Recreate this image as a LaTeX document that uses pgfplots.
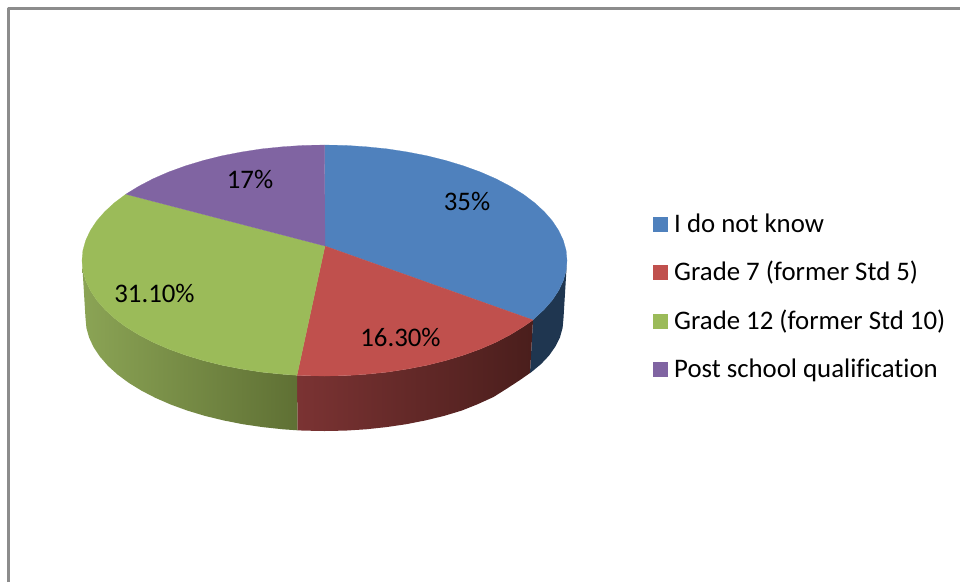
\documentclass[border=0pt]{standalone}
\usepackage{pgfplots}
\pgfplotsset{compat=1.18}
\usepackage{fontspec}
\setmainfont[Ligatures={NoCommon}]{Carlito}
\definecolor{cblue}{HTML}{4F81BD}
\definecolor{cred}{HTML}{C0504D}
\definecolor{cgreen}{HTML}{9BBB59}
\definecolor{cpurple}{HTML}{8064A2}
\definecolor{wblue}{HTML}{1F3650}
\definecolor{frameg}{HTML}{8C8C8C}
\definecolor{HTMLleftr}{HTML}{7B3333}
\definecolor{HTMLmidr}{HTML}{4F201E}
\definecolor{HTMLrightr}{HTML}{4A1E1C}
\definecolor{HTMLleftg}{HTML}{8BA455}
\definecolor{HTMLrightg}{HTML}{5F7034}
\begin{document}
\begin{tikzpicture}
\begin{axis}[
  scale only axis, width=960pt, height=582pt,
  xmin=0, xmax=960, ymin=0, ymax=582, y dir=reverse,
  axis line style={draw=none}, ticks=none, no markers,
  every axis plot/.append style={line join=round},
]
% frame
\addplot[draw=frameg, line width=3pt] coordinates {(8.5,582) (8.5,8.5) (960,8.5)};
% side walls
\addplot[draw=none, fill=wblue] coordinates {(567,260.5)(566.1,270.6)(563.3,280.6)(558.7,290.4)(552.4,300)(544.3,309.3)(534.5,318.3)(533,320)(530,373)(531.5,372)(541.1,364)(549.1,355.5)(555.4,346.5)(559.9,337.6)(562.6,327.9)(563.5,318)} --cycle;
\addplot[draw=none, left color=HTMLleftr, middle color=HTMLmidr, right color=HTMLrightr] coordinates {(533,320)(523.2,326.8)(510.3,334.7)(496,342.2)(480.4,349)(463.6,355.1)(445.8,360.5)(427,365.2)(407.4,369)(387.3,372.1)(366.6,374.2)(345.6,375.6)(324.5,376)(303.4,375.6)(297,375.3)(297.5,430.3)(303.7,430.6)(324.5,431)(345.3,430.6)(366,429.3)(386.4,427.1)(406.2,424.2)(425.5,420.4)(444,415.9)(461.6,410.6)(478.1,404)(493.5,397)(507,388.5)(520,380)(530,373)} --cycle;
\addplot[draw=none, left color=HTMLleftg, right color=HTMLrightg] coordinates {(297,375.3)(282.4,374.2)(261.7,372.1)(241.6,369)(222,365.2)(203.2,360.5)(185.4,355.1)(168.6,349)(153,342.2)(138.7,334.7)(125.8,326.8)(114.5,318.3)(104.7,309.3)(96.6,300)(90.3,290.4)(85.7,280.6)(82.9,270.6)(82,260.5)(85.5,318)(86.4,327.9)(89.1,337.6)(93.6,347.2)(99.9,356.6)(107.9,365.8)(117.5,374.5)(128.7,382.8)(141.4,390.6)(155.5,397.9)(170.9,404.6)(187.4,410.6)(205,415.9)(223.5,420.4)(242.8,424.2)(262.6,427.1)(283,429.3)(297.5,430.3)} --cycle;
% top faces
\addplot[draw=cblue, line width=0.2pt, fill=cblue] coordinates {(325,246)(324.5,145)(345.6,145.4)(366.6,146.8)(387.3,148.9)(407.4,152)(427,155.8)(445.8,160.5)(463.6,165.9)(480.4,172)(496,178.8)(510.3,186.3)(523.2,194.2)(534.5,202.7)(544.3,211.7)(552.4,221)(558.7,230.6)(563.3,240.4)(566.1,250.4)(567,260.5)(566.1,270.6)(563.3,280.6)(558.7,290.4)(552.4,300)(544.3,309.3)(534.5,318.3)(533,320)} --cycle;
\addplot[draw=cred, line width=0.2pt, fill=cred] coordinates {(325,246)(533,320)(523.2,326.8)(510.3,334.7)(496,342.2)(480.4,349)(463.6,355.1)(445.8,360.5)(427,365.2)(407.4,369)(387.3,372.1)(366.6,374.2)(345.6,375.6)(324.5,376)(303.4,375.6)(297,375.3)} --cycle;
\addplot[draw=cgreen, line width=0.2pt, fill=cgreen] coordinates {(325,246)(297,375.3)(282.4,374.2)(261.7,372.1)(241.6,369)(222,365.2)(203.2,360.5)(185.4,355.1)(168.6,349)(153,342.2)(138.7,334.7)(125.8,326.8)(114.5,318.3)(104.7,309.3)(96.6,300)(90.3,290.4)(85.7,280.6)(82.9,270.6)(82,260.5)(82.9,250.4)(85.7,240.4)(90.3,230.6)(96.6,221)(104.7,211.7)(114.5,202.7)(125.8,194.2)} --cycle;
\addplot[draw=cpurple, line width=0.2pt, fill=cpurple] coordinates {(325,246)(125.8,194.2)(138.7,186.3)(153,178.8)(168.6,172)(185.4,165.9)(203.2,160.5)(222,155.8)(241.6,152)(261.7,148.9)(282.4,146.8)(303.4,145.4)(324.5,145)} --cycle;
% legend keys
\addplot[draw=none, fill=cblue] coordinates {(653,217)(668,217)(668,232)(653,232)} --cycle;
\addplot[draw=none, fill=cred] coordinates {(653,265)(668,265)(668,280)(653,280)} --cycle;
\addplot[draw=none, fill=cgreen] coordinates {(653,314)(668,314)(668,329)(653,329)} --cycle;
\addplot[draw=none, fill=cpurple] coordinates {(653,362)(668,362)(668,377)(653,377)} --cycle;
% legend text
\node[anchor=base west, inner sep=0pt, font=\fontsize{26.8}{30}\selectfont] at (axis cs:674,232) {I do not know};
\node[anchor=base west, inner sep=0pt, font=\fontsize{26.8}{30}\selectfont] at (axis cs:674,280) {Grade 7 (former Std 5)};
\node[anchor=base west, inner sep=0pt, font=\fontsize{26.8}{30}\selectfont] at (axis cs:674,329) {Grade 12 (former Std 10)};
\node[anchor=base west, inner sep=0pt, font=\fontsize{26.8}{30}\selectfont] at (axis cs:674,377) {Post school qualification};
% data labels
\node[anchor=base, inner sep=0pt, font=\fontsize{26.8}{30}\selectfont] at (axis cs:467,210) {35\%};
\node[anchor=base, inner sep=0pt, font=\fontsize{26.8}{30}\selectfont] at (axis cs:250,188) {17\%};
\node[anchor=base, inner sep=0pt, font=\fontsize{26.8}{30}\selectfont] at (axis cs:154.5,302) {31.10\%};
\node[anchor=base, inner sep=0pt, font=\fontsize{26.8}{30}\selectfont] at (axis cs:400.5,346) {16.30\%};
\end{axis}
\end{tikzpicture}
\end{document}
